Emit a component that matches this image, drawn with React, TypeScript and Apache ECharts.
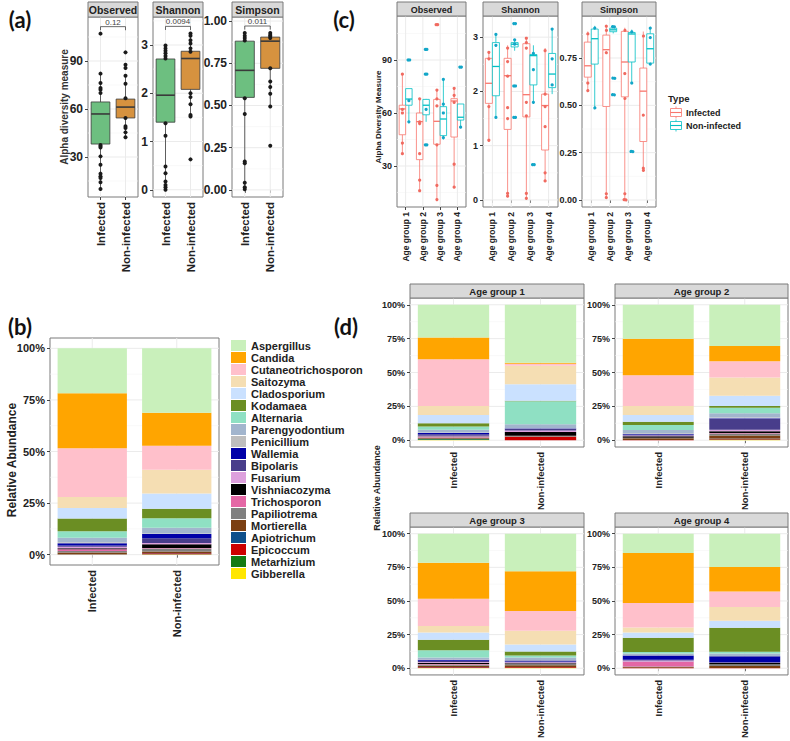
import React, { useEffect, useRef } from 'react';
import * as echarts from 'echarts';

const FONT = '"Liberation Sans", Arial, Helvetica, sans-serif';
const INK = '#222222';

// ---------------- (a) overall alpha diversity ----------------
const typeCategories = ['Infected', 'Non-infected'];
const facetNames = ['Observed', 'Shannon', 'Simpson'];
// box stats: [lower whisker, Q1, median, Q3, upper whisker]
const obsInfectedBox = [10, 38.1, 56.9, 64.4, 82.1];
const obsNonInfectedBox = [42.3, 54.4, 61.2, 66.2, 80.8];
const shaInfectedBox = [0.0, 1.4, 1.96, 2.71, 2.99];
const shaNonInfectedBox = [1.52, 2.08, 2.72, 2.87, 3.24];
const simInfectedBox = [0.004, 0.548, 0.708, 0.881, 0.929];
const simNonInfectedBox = [0.494, 0.72, 0.881, 0.905, 0.929];
const obsInfectedPts = [107.1, 82.1, 76.3, 73.1, 72.1, 70, 37.5, 36.7, 36, 30.4, 25.2, 19.6, 17.9, 16.9, 14.2, 10];
const obsNonInfectedPts = [95.4, 87.7, 85.6, 80.8, 75.8, 66.7, 54.4, 49.2, 48.1, 45.4, 42.3];
const shaInfectedPts = [2.99, 2.93, 2.88, 2.83, 2.77, 2.72, 1.38, 1.12, 0.48, 0.34, 0.17, 0.1, 0.05, 0.0];
const shaNonInfectedPts = [3.24, 3.19, 3.1, 3.03, 2.93, 2.86, 2.0, 1.92, 1.77, 1.55, 1.52, 0.63];
const simInfectedPts = [0.929, 0.913, 0.9, 0.885, 0.543, 0.45, 0.168, 0.158, 0.043, 0.016, 0.004];
const simNonInfectedPts = [0.929, 0.918, 0.91, 0.9, 0.721, 0.642, 0.609, 0.569, 0.494, 0.261];
const pValues = ['0.12', '0.0094', '0.011'];
const aObsTicks = [30, 60, 90];
const aShaTicks = [0, 1, 2, 3];
const aSimTicks = [0, 0.25, 0.5, 0.75, 1];

// ---------------- (c) alpha diversity by age group ----------------
const ageGroups = ['Age group 1', 'Age group 2', 'Age group 3', 'Age group 4'];
const typeNames = ['Infected', 'Non-infected'];
const cObsInfectedBox = [[37, 47.7, 62.3, 64.4, 82], [16, 33.6, 55.1, 60, 68], [11, 42.3, 55.3, 67.7, 73], [18, 46.4, 66.8, 68.1, 74]];
const cObsNonInfectedBox = [[55, 64.4, 67.9, 73.8, 73.8], [55, 59, 64.4, 67.7, 68], [45, 47.2, 56.6, 63.6, 79], [52, 56, 57.6, 65.1, 65.1]];
const cShaInfectedBox = [[1.1, 1.78, 2.15, 2.61, 2.72], [0.06, 1.3, 2.29, 2.61, 2.85], [0.03, 1.53, 1.94, 2.88, 3.0], [0.35, 0.92, 1.74, 1.95, 2.8]];
const cShaNonInfectedBox = [[1.52, 1.92, 2.46, 2.9, 3.05], [2.75, 2.82, 2.87, 2.9, 2.95], [1.8, 2.12, 2.66, 2.68, 2.85], [1.95, 2.07, 2.32, 2.7, 3.15]];
const cSimInfectedBox = [[0.58, 0.649, 0.709, 0.834, 0.89], [0.015, 0.494, 0.794, 0.871, 0.92], [0.005, 0.545, 0.729, 0.891, 0.91], [0.16, 0.309, 0.575, 0.697, 0.89]];
const cSimNonInfectedBox = [[0.49, 0.718, 0.852, 0.903, 0.92], [0.88, 0.889, 0.899, 0.908, 0.92], [0.62, 0.729, 0.877, 0.885, 0.9], [0.72, 0.723, 0.799, 0.878, 0.91]];
const cObsInfectedPts = [[82, 62, 60, 43, 37], [68, 55, 54, 37, 22, 16], [110, 110, 73, 68, 64, 42, 19, 11], [74, 70, 66, 31, 18]];
const cObsNonInfectedPts = [[90, 90, 67, 55], [96, 96, 82, 82, 62, 42, 42], [79, 65, 60, 46], [86, 86, 52]];
const cShaInfectedPts = [[2.72, 2.6, 1.72, 1.1], [2.8, 2.55, 2.28, 1.7, 1.5, 0.12, 0.07], [2.98, 2.9, 2.8, 1.8, 1.55, 0.12, 0.03], [2.75, 1.95, 1.72, 1.35, 0.5, 0.35]];
const cShaNonInfectedPts = [[3.05, 2.85, 1.52], [3.25, 3.25, 2.95, 2.87, 2.1, 2.1, 1.52, 1.52], [2.7, 2.4, 1.8, 0.65, 0.65], [3.15, 2.6, 2.12]];
const cSimInfectedPts = [[0.88, 0.62, 0.58], [0.92, 0.9, 0.78, 0.035, 0.015], [0.9, 0.67, 0.54, 0.035, 0.005, 0.005], [0.87, 0.45, 0.17, 0.16]];
const cSimNonInfectedPts = [[0.91, 0.49], [0.92, 0.92, 0.65, 0.65, 0.56, 0.56], [0.89, 0.62, 0.26, 0.26], [0.91, 0.86, 0.72]];
const cObsTicks = [30, 60, 90];
const cShaTicks = [0, 1, 2, 3];
const cSimTicks = [0, 0.25, 0.5, 0.75];

// ---------------- (b)/(d) relative abundance ----------------
const genera = ['Aspergillus', 'Candida', 'Cutaneotrichosporon', 'Saitozyma', 'Cladosporium', 'Kodamaea', 'Alternaria',
  'Parengyodontium', 'Penicillium', 'Wallemia', 'Bipolaris', 'Fusarium', 'Vishniacozyma', 'Trichosporon', 'Papiliotrema',
  'Mortierella', 'Apiotrichum', 'Epicoccum', 'Metarhizium', 'Gibberella'];
const genusColors = ['#C9F0BB', '#FFA500', '#FFC0CB', '#F5DEB3', '#CAE1FF', '#6B8E23', '#8FE0C3', '#A2B5CD', '#BEBEBE',
  '#0000A8', '#483D8B', '#DDA0DD', '#000000', '#E467A5', '#808080', '#7B3F12', '#0F4F8A', '#CD0000', '#137B13', '#FFE600'];
const bInfected = [21.8, 26.6, 23.6, 5.4, 5.1, 6.2, 3.1, 2.2, 0.5, 1.0, 0.6, 0.8, 0.5, 0.8, 0.7, 0.8, 0.1, 0.1, 0.05, 0.05];
const bNonInfected = [31.2, 16.0, 11.6, 11.6, 7.4, 4.5, 4.7, 2.7, 0.3, 2.0, 2.3, 0.6, 1.9, 0.2, 1.4, 0.8, 0.1, 0.5, 0.1, 0.1];
const ag1Infected = [24.2, 16.1, 34.4, 6.6, 6.1, 2.5, 2.4, 2.0, 0.4, 0.8, 1.2, 0.6, 0.4, 0.3, 0.6, 0.5, 0.1, 0.1, 0.6, 0.1];
const ag1NonInfected = [42.8, 0.8, 1.5, 13.6, 12.2, 0.3, 17.0, 3.0, 0.2, 0.3, 1.2, 1.0, 2.8, 0.1, 0.4, 0.2, 0.1, 2.5, 0.0, 0.0];
const ag2Infected = [25.0, 27.0, 22.8, 6.6, 4.9, 2.4, 3.7, 2.5, 0.5, 0.3, 0.8, 0.6, 1.0, 0.2, 0.3, 1.2, 0.1, 0.1, 0.0, 0.0];
const ag2NonInfected = [30.4, 11.3, 12.0, 13.5, 7.6, 1.2, 4.1, 3.2, 0.5, 0.3, 8.1, 1.2, 1.2, 0.5, 1.5, 2.2, 0.2, 0.5, 0.3, 0.2];
const ag3Infected = [21.6, 26.7, 20.4, 4.8, 5.4, 7.8, 5.3, 1.4, 0.3, 0.8, 0.8, 0.6, 1.0, 0.3, 1.0, 0.8, 0.2, 0.6, 0.1, 0.1];
const ag3NonInfected = [27.9, 29.6, 14.6, 10.2, 5.3, 2.9, 1.5, 1.9, 0.3, 0.8, 0.6, 0.5, 0.4, 0.2, 1.0, 1.5, 0.1, 0.5, 0.1, 0.1];
const ag4Infected = [14.3, 37.2, 18.2, 3.8, 3.9, 10.5, 1.2, 1.2, 0.2, 3.2, 0.6, 0.8, 0.3, 3.4, 0.3, 0.5, 0.1, 0.3, 0.0, 0.0];
const ag4NonInfected = [24.7, 18.2, 11.6, 10.2, 5.3, 17.8, 1.2, 1.9, 0.2, 4.5, 0.3, 0.3, 0.8, 0.1, 1.2, 1.5, 0.1, 0.1, 0.0, 0.0];
const pctTicks = [0, 25, 50, 75, 100];

type Rect = { left: number; top: number; width: number; height: number };

const gridRender = (params: any, api: any) => {
  const cs = params.coordSys;
  const kind = api.value(2);
  if (kind === 2) {
    const x = api.coord([api.value(0), api.value(1)])[0];
    return { type: 'line', shape: { x1: x, y1: cs.y, x2: x, y2: cs.y + cs.height }, style: { stroke: '#EBEBEB', lineWidth: 1 } };
  }
  const y = api.coord([0, api.value(1)])[1];
  return {
    type: 'line',
    shape: { x1: cs.x, y1: y, x2: cs.x + cs.width, y2: y },
    style: { stroke: kind === 0 ? '#EBEBEB' : '#F5F5F5', lineWidth: kind === 0 ? 1 : 0.6 },
  };
};

const boxRender = (fill: string, stroke: string, dodge: number, frac: number, lw: number, medLw: number) =>
  (params: any, api: any) => {
    const i = api.value(0);
    const bw = api.size([1, 0])[0];
    const cx = api.coord([i, 0])[0] + dodge * bw;
    const y = (k: number) => api.coord([i, api.value(k)])[1];
    const half = (frac * bw) / 2;
    const yLo = y(1), yQ1 = y(2), yMed = y(3), yQ3 = y(4), yHi = y(5);
    return {
      type: 'group',
      children: [
        { type: 'line', shape: { x1: cx, y1: yLo, x2: cx, y2: yQ1 }, style: { stroke, lineWidth: lw } },
        { type: 'line', shape: { x1: cx, y1: yQ3, x2: cx, y2: yHi }, style: { stroke, lineWidth: lw } },
        { type: 'rect', shape: { x: cx - half, y: yQ3, width: 2 * half, height: Math.max(yQ1 - yQ3, 0.5) }, style: { fill, stroke, lineWidth: lw } },
        { type: 'line', shape: { x1: cx - half, y1: yMed, x2: cx + half, y2: yMed }, style: { stroke, lineWidth: medLw } },
      ],
    };
  };

const pointRender = (color: string, dodge: number, r: number) => (params: any, api: any) => {
  const bw = api.size([1, 0])[0];
  const c = api.coord([api.value(0), api.value(1)]);
  return { type: 'circle', shape: { cx: c[0] + (dodge + api.value(2)) * bw, cy: c[1], r }, style: { fill: color } };
};

const bracketRender = (label: string) => (params: any, api: any) => {
  const x0 = api.coord([0, api.value(1)])[0];
  const x1 = api.coord([1, api.value(1)])[0];
  const yB = api.coord([0, api.value(1)])[1];
  const yT = api.coord([0, api.value(2)])[1];
  return {
    type: 'group',
    children: [
      { type: 'polyline', shape: { points: [[x0, yT], [x0, yB], [x1, yB], [x1, yT]] }, style: { stroke: '#444', lineWidth: 0.8, fill: null } },
      { type: 'text', x: (x0 + x1) / 2, y: yB - 0.5, style: { text: label, fontSize: 8, fontFamily: FONT, fill: '#444', align: 'center', verticalAlign: 'bottom' } },
    ],
  };
};

const jitterData = (cat: number, vals: number[], step: number) =>
  vals.map((v, i) => {
    const same = vals.filter((u) => u === v).length;
    const k = vals.slice(0, i).filter((u) => u === v).length;
    return [cat, v, (k - (same - 1) / 2) * step];
  });

const minorOf = (ticks: number[], lo: number, hi: number) => {
  const step = ticks[1] - ticks[0];
  const out: number[] = [];
  for (let v = ticks[0] - step / 2; v <= hi; v += step) if (v >= lo) out.push(v);
  return out;
};

function buildOption() {
  const grid: any[] = [];
  const xAxis: any[] = [];
  const yAxis: any[] = [];
  const series: any[] = [];
  const graphic: any[] = [];

  const addPanel = (p: Rect, cats: string[], range: number[], ticks: number[], fmt: (v: number) => string, xFont: number, yFont: number) => {
    const idx = grid.length;
    grid.push({ left: p.left, top: p.top, width: p.width, height: p.height, show: true, borderColor: '#7a7a7a', borderWidth: 1, backgroundColor: '#fff' });
    xAxis.push({
      type: 'category', gridIndex: idx, data: cats, boundaryGap: true,
      axisLine: { show: false },
      axisTick: { show: true, alignWithLabel: true, length: 3, lineStyle: { color: '#444' } },
      axisLabel: { rotate: 90, interval: 0, margin: 5, fontSize: xFont, fontWeight: 'bold', color: INK, fontFamily: FONT },
      splitLine: { show: false },
    });
    yAxis.push({
      type: 'value', gridIndex: idx, min: range[0], max: range[1],
      axisLine: { show: false },
      axisTick: { show: true, length: 3, customValues: ticks, lineStyle: { color: '#444' } },
      axisLabel: { customValues: ticks, formatter: fmt, margin: 5, fontSize: yFont, fontWeight: 'bold', color: INK, fontFamily: FONT },
      splitLine: { show: false },
    });
    const minor = minorOf(ticks, range[0], range[1]);
    const gdata = [
      ...ticks.map((v) => [0, v, 0]),
      ...minor.map((v) => [0, v, 1]),
      ...cats.map((_, i) => [i, range[0], 2]),
    ];
    series.push({ type: 'custom', xAxisIndex: idx, yAxisIndex: idx, silent: true, z: 1, data: gdata, renderItem: gridRender });
    return idx;
  };

  const addText = (text: string, x: number, y: number, fs: number, opts: any = {}) => {
    graphic.push({
      type: 'text', x, y, rotation: opts.rotation || 0, z: 100, silent: true,
      style: {
        text, fontSize: fs, fontWeight: opts.weight || 'bold', fontFamily: opts.family || FONT, fill: opts.color || INK,
        align: opts.align || 'center', verticalAlign: 'middle', textAlign: opts.align || 'center', textVerticalAlign: 'middle',
      },
    });
  };

  const addStrip = (p: Rect, top: number, h: number, text: string, fs: number) => {
    graphic.push({ type: 'rect', z: 90, silent: true, shape: { x: p.left, y: top, width: p.width, height: h }, style: { fill: '#D9D9D9', stroke: '#7a7a7a', lineWidth: 1 } });
    addText(text, p.left + p.width / 2, top + h / 2 + 0.5, fs);
  };

  // ---------- (a) ----------
  const aRects: Rect[] = [
    { left: 88, top: 17, width: 50, height: 180 },
    { left: 153, top: 17, width: 50, height: 180 },
    { left: 232, top: 17, width: 51, height: 180 },
  ];
  const aRanges = [[5, 117.5], [-0.15, 3.58], [-0.042, 1.024]];
  const aTicks = [aObsTicks, aShaTicks, aSimTicks];
  const aFmt = [(v: number) => String(v), (v: number) => String(v), (v: number) => v.toFixed(2)];
  const aBoxes = [[obsInfectedBox, obsNonInfectedBox], [shaInfectedBox, shaNonInfectedBox], [simInfectedBox, simNonInfectedBox]];
  const aPts = [[obsInfectedPts, obsNonInfectedPts], [shaInfectedPts, shaNonInfectedPts], [simInfectedPts, simNonInfectedPts]];
  const aFills = ['#6DBF80', '#D6923F'];
  aRects.forEach((r, k) => {
    const idx = addPanel(r, typeCategories, aRanges[k], aTicks[k], aFmt[k], 11.5, 12);
    addStrip(r, 2, 15, facetNames[k], 10.5);
    aFills.forEach((fill, t) => {
      series.push({ type: 'custom', xAxisIndex: idx, yAxisIndex: idx, silent: true, z: 3, data: [[t, ...aBoxes[k][t]]], renderItem: boxRender(fill, '#3a3a3a', 0, 0.75, 0.8, 1.6) });
      series.push({ type: 'custom', xAxisIndex: idx, yAxisIndex: idx, silent: true, z: 4, data: jitterData(t, aPts[k][t], 0), renderItem: pointRender('#1a1a1a', 0, 2) });
    });
    const all = [...aPts[k][0], ...aPts[k][1], ...aBoxes[k][0], ...aBoxes[k][1]];
    const mx = Math.max(...all);
    const mn = Math.min(...all);
    const span = mx - mn;
    series.push({ type: 'custom', xAxisIndex: idx, yAxisIndex: idx, silent: true, z: 4, data: [[0, mx + 0.045 * span, mx + 0.022 * span]], renderItem: bracketRender(pValues[k]) });
  });
  addText('Alpha diversity measure', 64, 107, 10, { rotation: Math.PI / 2, color: '#333' });
  addText('(a)', 20, 19, 22, { family: 'Lato, "Open Sans", sans-serif', color: '#111' });

  // ---------- (c) ----------
  const cRects: Rect[] = [
    { left: 397, top: 16, width: 69, height: 191 },
    { left: 483, top: 16, width: 75, height: 191 },
    { left: 582, top: 16, width: 74, height: 191 },
  ];
  const cRanges = [[6.8, 114.9], [-0.13, 3.39], [-0.037, 0.972]];
  const cTicks = [cObsTicks, cShaTicks, cSimTicks];
  const cBoxes = [[cObsInfectedBox, cObsNonInfectedBox], [cShaInfectedBox, cShaNonInfectedBox], [cSimInfectedBox, cSimNonInfectedBox]];
  const cPts = [[cObsInfectedPts, cObsNonInfectedPts], [cShaInfectedPts, cShaNonInfectedPts], [cSimInfectedPts, cSimNonInfectedPts]];
  const cLine = ['#F8766D', '#00BFC4'];
  const cDot = ['#F06A60', '#12A6C8'];
  const cDodge = [-0.1875, 0.1875];
  cRects.forEach((r, k) => {
    const idx = addPanel(r, ageGroups, cRanges[k], cTicks[k], aFmt[k], 8.5, 9);
    addStrip(r, 2, 14, facetNames[k], 9);
    [0, 1].forEach((t) => {
      series.push({
        type: 'custom', xAxisIndex: idx, yAxisIndex: idx, silent: true, z: 3,
        data: cBoxes[k][t].map((b, i) => [i, ...b]),
        renderItem: boxRender('#ffffff', cLine[t], cDodge[t], 0.375, 0.8, 1.3),
      });
      const pts: number[][] = [];
      cPts[k][t].forEach((vals, i) => jitterData(i, vals, 0.09).forEach((d) => pts.push(d)));
      series.push({ type: 'custom', xAxisIndex: idx, yAxisIndex: idx, silent: true, z: 4, data: pts, renderItem: pointRender(cDot[t], cDodge[t], 1.6) });
    });
  });
  addText('Alpha Diversity Measure', 378, 117, 8, { rotation: Math.PI / 2 });
  addText('(c)', 344, 19, 22, { family: 'Lato, "Open Sans", sans-serif', color: '#111' });
  // legend for (c)
  addText('Type', 668, 98, 9.5, { align: 'left' });
  typeNames.forEach((nm, t) => {
    const cy = 112.5 + t * 13;
    graphic.push({ type: 'line', z: 100, silent: true, shape: { x1: 676, y1: cy - 6, x2: 676, y2: cy + 6 }, style: { stroke: cLine[t], lineWidth: 0.8 } });
    graphic.push({ type: 'rect', z: 101, silent: true, shape: { x: 670.5, y: cy - 4, width: 11, height: 8 }, style: { fill: '#fff', stroke: cLine[t], lineWidth: 0.8 } });
    graphic.push({ type: 'line', z: 102, silent: true, shape: { x1: 670.5, y1: cy, x2: 681.5, y2: cy }, style: { stroke: cLine[t], lineWidth: 1.1 } });
    addText(nm, 686, cy, 9, { align: 'left' });
  });

  // ---------- (b) ----------
  const pctFmt = (v: number) => v + '%';
  const bRect: Rect = { left: 50, top: 338, width: 169, height: 227 };
  const bIdx = addPanel(bRect, typeCategories, [-5, 105], pctTicks, pctFmt, 11, 11);
  for (let gi = genera.length - 1; gi >= 0; gi--) {
    series.push({
      type: 'bar', name: genera[gi], stack: 'b', xAxisIndex: bIdx, yAxisIndex: bIdx, barWidth: '82%', silent: true, z: 3,
      itemStyle: { color: genusColors[gi] }, data: [bInfected[gi], bNonInfected[gi]],
    });
  }
  addText('Relative Abundance', 12, 460, 12, { rotation: Math.PI / 2 });
  addText('(b)', 20, 326, 22, { family: 'Lato, "Open Sans", sans-serif', color: '#111' });

  // ---------- (d) ----------
  const dRects: Rect[] = [
    { left: 410, top: 298, width: 174, height: 149 },
    { left: 615, top: 298, width: 173, height: 149 },
    { left: 410, top: 527, width: 174, height: 151 },
    { left: 615, top: 527, width: 173, height: 151 },
  ];
  const dStripTop = [284, 284, 513, 513];
  const dData = [[ag1Infected, ag1NonInfected], [ag2Infected, ag2NonInfected], [ag3Infected, ag3NonInfected], [ag4Infected, ag4NonInfected]];
  dRects.forEach((r, k) => {
    const idx = addPanel(r, typeCategories, [-5, 105], pctTicks, pctFmt, 9.5, 9);
    addStrip(r, dStripTop[k], 14, ageGroups[k], 9.5);
    for (let gi = genera.length - 1; gi >= 0; gi--) {
      series.push({
        type: 'bar', name: genera[gi], stack: 'd' + k, xAxisIndex: idx, yAxisIndex: idx, barWidth: '82%', silent: true, z: 3,
        itemStyle: { color: genusColors[gi] }, data: [dData[k][0][gi], dData[k][1][gi]],
      });
    }
  });
  addText('Relative Abundance', 377, 488, 9, { rotation: Math.PI / 2 });
  addText('(d)', 346, 326, 22, { family: 'Lato, "Open Sans", sans-serif', color: '#111' });

  return {
    animation: false,
    backgroundColor: '#ffffff',
    textStyle: { fontFamily: FONT },
    grid, xAxis, yAxis, series, graphic,
    legend: {
      data: genera, orient: 'vertical', left: 231, top: 340, itemWidth: 15, itemHeight: 11, itemGap: 1, icon: 'rect',
      padding: 0, selectedMode: false,
      textStyle: { fontSize: 11, fontWeight: 'bold', fontFamily: FONT, color: INK, lineHeight: 11 },
    },
  };
}

export default function App() {
  const ref = useRef<HTMLDivElement>(null);
  useEffect(() => {
    if (!ref.current) return;
    const chart = echarts.init(ref.current, undefined, { renderer: 'svg' });
    chart.setOption(buildOption() as any);
    return () => chart.dispose();
  }, []);
  return <div ref={ref} style={{ position: 'absolute', left: 0, top: 0, width: 790, height: 741, background: '#fff' }} />;
}
